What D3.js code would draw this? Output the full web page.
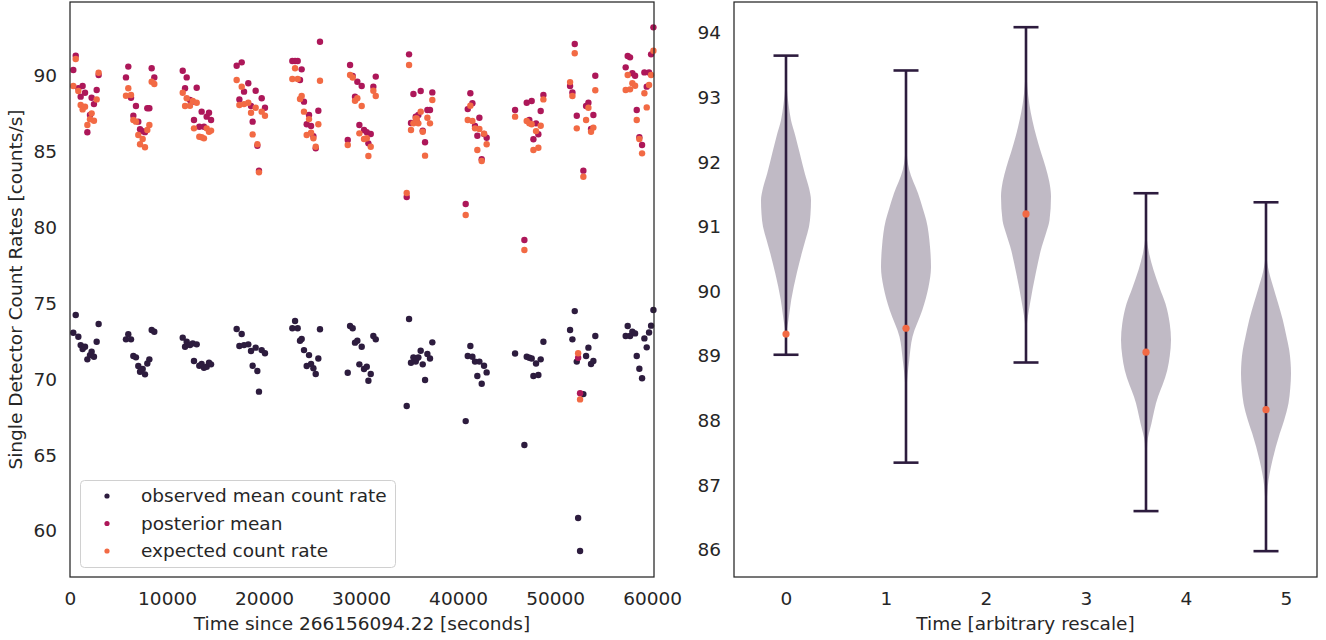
<!DOCTYPE html>
<html>
<head>
<meta charset="utf-8">
<script src="https://cdn.jsdelivr.net/npm/d3@7"></script>
<style>
  body { margin: 0; background: #fff; }
  svg { font-family: "DejaVu Sans", sans-serif; }
</style>
</head>
<body>
<svg id="chart" width="1326" height="640"></svg>
<script>
// time since start (s), shared by the three scatter series
const timeSec = [
  340, 590, 860, 1100, 1300, 1550, 1790, 2060, 2230, 2470, 2750, 2950,
  5770, 6010, 6290, 6530, 6800, 7040, 7220, 7490, 7730, 7970, 8180, 8420, 8690,
  11620, 11860, 12030, 12370, 12650, 12780, 13060, 13330, 13570, 13810, 14090, 14330, 14540,
  17180, 17460, 17700, 17940, 18380, 18660, 18830, 19140, 19310, 19480, 19760, 20100,
  22920, 23200, 23470, 23710, 23880, 24120, 24400, 24640, 24850, 25090, 25330, 25600, 25770,
  28630, 28870, 29140, 29380, 29620, 29830, 30070, 30310, 30590, 30760, 31000, 31270, 31520,
  34710, 34950, 35150, 35400, 35640, 35740, 35910, 36150, 36360, 36600, 36840, 37110, 37350,
  40790, 41000, 41270, 41480, 41750, 41990, 42200, 42440, 42680, 42950,
  45880, 46840, 47080, 47350, 47590, 47770, 48040, 48280, 48520, 48800,
  51550, 51790, 52030, 52240, 52380, 52580, 52920, 53200, 53440, 53710, 53950, 54150,
  57280, 57490, 57730, 57970, 58250, 58420, 58690, 58970, 59210, 59450, 59690, 59900, 60140
];
const observedRate = [
  73.07, 74.24, 72.81, 72.26, 72.00, 72.15, 71.32, 71.60, 71.82, 71.49, 72.48, 73.65,
  72.64, 72.97, 72.64, 71.54, 71.45, 70.88, 70.50, 70.68, 70.33, 71.05, 71.32, 73.25, 73.14,
  72.75, 72.15, 72.48, 72.26, 72.37, 71.21, 72.31, 70.90, 71.01, 70.77, 70.83, 71.10, 70.99,
  73.32, 72.20, 72.99, 72.26, 72.31, 71.87, 70.90, 72.09, 70.55, 69.19, 71.93, 71.72,
  73.37, 73.85, 73.37, 72.55, 72.66, 71.93, 70.88, 71.60, 71.01, 70.73, 70.35, 71.38, 73.30,
  70.44, 73.52, 73.37, 72.42, 72.55, 70.99, 72.15, 70.68, 70.83, 69.91, 70.35, 72.86, 72.64,
  68.24, 73.98, 71.10, 71.45, 71.17, 71.38, 71.45, 71.89, 70.99, 69.96, 71.67, 71.38, 72.44,
  67.25, 71.54, 72.20, 71.49, 71.17, 70.22, 71.17, 69.71, 70.90, 70.46,
  71.71, 65.67, 71.49, 71.43, 71.38, 70.22, 71.05, 70.29, 71.32, 72.48,
  73.25, 72.64, 74.50, 71.17, 60.86, 58.68, 69.03, 71.54, 72.09, 71.01, 71.21, 72.86,
  72.86, 73.52, 72.86, 73.14, 73.03, 71.54, 70.70, 70.07, 72.70, 72.11, 73.09, 73.54, 74.57
];
const posteriorMean = [
  90.40, 91.34, 89.19, 88.64, 89.34, 88.90, 86.29, 87.43, 88.57, 88.15, 89.08, 90.07,
  89.91, 90.62, 88.57, 87.38, 88.02, 86.99, 86.49, 86.37, 86.30, 87.87, 87.87, 90.51, 89.91,
  90.35, 89.19, 89.91, 88.42, 88.31, 87.10, 89.23, 86.66, 87.65, 86.66, 87.32, 87.58, 87.10,
  90.68, 88.46, 90.90, 88.97, 89.52, 88.02, 86.99, 89.03, 85.40, 83.75, 88.53, 87.91,
  90.99, 90.99, 90.99, 89.74, 90.44, 88.31, 86.82, 87.43, 86.70, 86.04, 85.23, 87.71, 92.26,
  85.78, 90.73, 90.00, 88.64, 89.62, 86.77, 89.34, 86.44, 86.30, 85.56, 86.18, 89.30, 89.96,
  82.02, 91.43, 86.90, 88.81, 87.32, 87.00, 87.43, 89.01, 86.40, 85.63, 87.76, 87.76, 88.92,
  81.56, 87.82, 88.86, 88.20, 86.70, 86.06, 87.25, 84.51, 86.18, 85.93,
  87.76, 79.19, 88.24, 87.10, 88.35, 85.83, 86.88, 86.16, 87.69, 88.75,
  89.34, 88.92, 92.11, 87.38, 71.43, 69.08, 83.76, 88.02, 88.24, 86.51, 87.43, 90.02,
  90.57, 91.32, 91.23, 90.18, 90.02, 87.76, 85.96, 85.45, 90.24, 89.30, 90.24, 91.43, 93.21
];
const expectedRate = [
  89.34, 91.12, 89.01, 88.09, 87.80, 87.98, 86.77, 87.15, 87.54, 87.05, 88.46, 90.22,
  88.70, 89.19, 88.75, 87.10, 86.99, 86.11, 85.50, 85.85, 85.30, 86.44, 86.77, 89.62, 89.47,
  88.90, 88.02, 88.53, 88.04, 88.35, 86.55, 88.24, 86.00, 85.96, 85.89, 86.55, 86.33, 86.40,
  89.74, 88.09, 89.30, 88.15, 88.24, 87.58, 86.15, 87.91, 85.50, 83.65, 87.65, 87.38,
  89.80, 90.51, 89.80, 88.48, 88.68, 87.65, 86.11, 87.16, 86.26, 85.89, 85.34, 86.82, 89.69,
  85.45, 90.07, 89.90, 88.37, 88.53, 86.22, 88.02, 85.85, 85.90, 84.73, 85.34, 89.03, 88.68,
  82.29, 90.73, 86.44, 86.88, 87.20, 87.20, 86.88, 87.65, 86.33, 84.75, 87.25, 86.88, 88.42,
  80.84, 87.10, 88.04, 87.03, 86.55, 85.12, 86.51, 84.40, 86.20, 85.50,
  87.32, 78.53, 87.03, 86.88, 86.82, 85.12, 86.37, 85.27, 86.72, 88.46,
  89.60, 88.68, 91.50, 86.55, 71.72, 68.68, 83.36, 87.10, 87.91, 86.33, 86.60, 89.06,
  89.08, 90.07, 89.12, 89.52, 89.36, 87.10, 85.85, 84.90, 88.86, 87.93, 89.41, 90.07, 91.67
];
const seriesNames = ["observed mean count rate", "posterior mean", "expected count rate"];
const seriesColors = ["#2d1c3e", "#ad1759", "#f26a44"];

// violin panel: positions, extrema, marker and density profile [value, relative half width]
const violinPos = [0, 1.2, 2.4, 3.6, 4.8];
const violinMin = [89.02, 87.35, 88.90, 86.60, 85.98];
const violinMax = [93.65, 93.42, 94.09, 91.52, 91.38];
const violinMarker = [89.34, 89.43, 91.20, 89.06, 88.17];
const violinProfiles = [
  [[93.65,0],[93.17,0.03],[92.9,0.1],[92.65,0.2],[92.4,0.38],[92.14,0.55],[91.83,0.75],[91.6,0.92],[91.41,1.0],[91.2,0.98],[91.0,0.92],[90.8,0.78],[90.59,0.63],[90.28,0.43],[89.87,0.21],[89.56,0.1],[89.38,0.03],[89.02,0]],
  [[93.42,0],[92.7,0.005],[92.24,0.02],[91.88,0.13],[91.52,0.48],[91.3,0.66],[91.1,0.81],[90.69,0.96],[90.38,1.0],[90.07,0.9],[89.71,0.65],[89.3,0.26],[88.94,0.13],[88.52,0.03],[88.0,0.005],[87.35,0]],
  [[94.09,0],[93.43,0.02],[92.91,0.13],[92.39,0.42],[92.15,0.6],[91.93,0.78],[91.7,0.93],[91.47,1.0],[91.1,0.94],[90.9,0.8],[90.69,0.63],[90.28,0.39],[89.81,0.16],[89.45,0.03],[88.9,0]],
  [[91.52,0],[90.85,0.03],[90.6,0.12],[90.33,0.3],[90.05,0.55],[89.81,0.78],[89.5,0.95],[89.25,1.0],[89.0,0.95],[88.78,0.85],[88.55,0.66],[88.37,0.48],[87.96,0.22],[87.65,0.05],[87.2,0.01],[86.6,0]],
  [[91.38,0],[90.59,0.02],[90.3,0.12],[90.07,0.29],[89.56,0.67],[89.3,0.82],[89.09,0.93],[88.73,1.0],[88.5,0.97],[88.27,0.9],[88.0,0.72],[87.8,0.55],[87.39,0.26],[86.98,0.07],[86.5,0.01],[85.98,0]]
];

const svg = d3.select("#chart");
const fontSize = "18.5px";
const textColor = "#262626";

// ---------- left panel: scatter ----------
const L = { left: 70, right: 654, top: 2, bottom: 577 };
const x1 = d3.scaleLinear().domain([0, 60200]).range([L.left, L.right]);
const y1 = d3.scaleLinear().domain([56.97, 94.88]).range([L.bottom, L.top]);

const left = svg.append("g");

const series = [observedRate, posteriorMean, expectedRate];
series.forEach((vals, si) => {
  left.append("g").selectAll("circle")
    .data(vals)
    .enter().append("circle")
    .attr("cx", (d, i) => x1(timeSec[i]))
    .attr("cy", d => y1(d))
    .attr("r", 3.2)
    .attr("fill", seriesColors[si]);
});

function styleAxis(g) {
  g.select(".domain").remove();
  g.selectAll("text").attr("font-size", fontSize).attr("fill", textColor)
    .attr("font-family", "DejaVu Sans");
}

left.append("g")
  .attr("transform", `translate(0,${L.bottom})`)
  .call(d3.axisBottom(x1).tickValues(d3.range(0, 60001, 10000)).tickFormat(d3.format("d")).tickSize(0).tickPadding(15))
  .call(styleAxis);

left.append("g")
  .attr("transform", `translate(${L.left},0)`)
  .call(d3.axisLeft(y1).tickValues(d3.range(60, 91, 5)).tickSize(0).tickPadding(13))
  .call(styleAxis);

left.append("rect")
  .attr("x", L.left).attr("y", L.top)
  .attr("width", L.right - L.left).attr("height", L.bottom - L.top)
  .attr("fill", "none").attr("stroke", textColor).attr("stroke-width", 1.25);

left.append("text")
  .attr("x", (L.left + L.right) / 2).attr("y", 630)
  .attr("text-anchor", "middle").attr("font-size", fontSize).attr("fill", textColor)
  .text("Time since 266156094.22 [seconds]");

left.append("text")
  .attr("transform", `translate(22,${(L.top + L.bottom) / 2}) rotate(-90)`)
  .attr("text-anchor", "middle").attr("font-size", fontSize).attr("fill", textColor)
  .text("Single Detector Count Rates [counts/s]");

// legend
const legend = left.append("g");
legend.append("rect")
  .attr("x", 80.5).attr("y", 480.5).attr("width", 315).attr("height", 87)
  .attr("rx", 4).attr("fill", "#fff").attr("fill-opacity", 0.8)
  .attr("stroke", "#d0d0d0").attr("stroke-width", 1);
seriesNames.forEach((name, i) => {
  const yy = 496 + i * 27.5;
  legend.append("circle").attr("cx", 107).attr("cy", yy).attr("r", 2.6).attr("fill", seriesColors[i]);
  legend.append("text").attr("x", 141).attr("y", yy).attr("dy", "0.35em")
    .attr("font-size", fontSize).attr("fill", textColor).text(name);
});

// ---------- right panel: violins ----------
const R = { left: 734, right: 1317, top: 2, bottom: 577 };
const x2 = d3.scaleLinear().domain([-0.52, 5.31]).range([R.left, R.right]);
const y2 = d3.scaleLinear().domain([85.58, 94.48]).range([R.bottom, R.top]);
const halfWidth = 0.25; // violin half-width in data units
const capHalf = 0.125;

const right = svg.append("g");

violinPos.forEach((p, i) => {
  const area = d3.area()
    .curve(d3.curveMonotoneY)
    .y(d => y2(d[0]))
    .x0(d => x2(p - d[1] * halfWidth))
    .x1(d => x2(p + d[1] * halfWidth));
  right.append("path")
    .datum(violinProfiles[i])
    .attr("d", area)
    .attr("fill", seriesColors[0])
    .attr("fill-opacity", 0.3);
});

const stroke = seriesColors[0];
violinPos.forEach((p, i) => {
  right.append("line")
    .attr("x1", x2(p)).attr("x2", x2(p))
    .attr("y1", y2(violinMin[i])).attr("y2", y2(violinMax[i]))
    .attr("stroke", stroke).attr("stroke-width", 2.6);
  [violinMin[i], violinMax[i]].forEach(v => {
    right.append("line")
      .attr("x1", x2(p - capHalf)).attr("x2", x2(p + capHalf))
      .attr("y1", y2(v)).attr("y2", y2(v))
      .attr("stroke", stroke).attr("stroke-width", 2.6);
  });
});

right.append("g").selectAll("circle")
  .data(violinMarker)
  .enter().append("circle")
  .attr("cx", (d, i) => x2(violinPos[i]))
  .attr("cy", d => y2(d))
  .attr("r", 3.6)
  .attr("fill", seriesColors[2]);

right.append("g")
  .attr("transform", `translate(0,${R.bottom})`)
  .call(d3.axisBottom(x2).tickValues(d3.range(0, 6)).tickFormat(d3.format("d")).tickSize(0).tickPadding(15))
  .call(styleAxis);

right.append("g")
  .attr("transform", `translate(${R.left},0)`)
  .call(d3.axisLeft(y2).tickValues(d3.range(86, 95)).tickSize(0).tickPadding(13))
  .call(styleAxis);

right.append("rect")
  .attr("x", R.left).attr("y", R.top)
  .attr("width", R.right - R.left).attr("height", R.bottom - R.top)
  .attr("fill", "none").attr("stroke", textColor).attr("stroke-width", 1.25);

right.append("text")
  .attr("x", (R.left + R.right) / 2).attr("y", 630)
  .attr("text-anchor", "middle").attr("font-size", fontSize).attr("fill", textColor)
  .text("Time [arbitrary rescale]");
</script>
</body>
</html>
